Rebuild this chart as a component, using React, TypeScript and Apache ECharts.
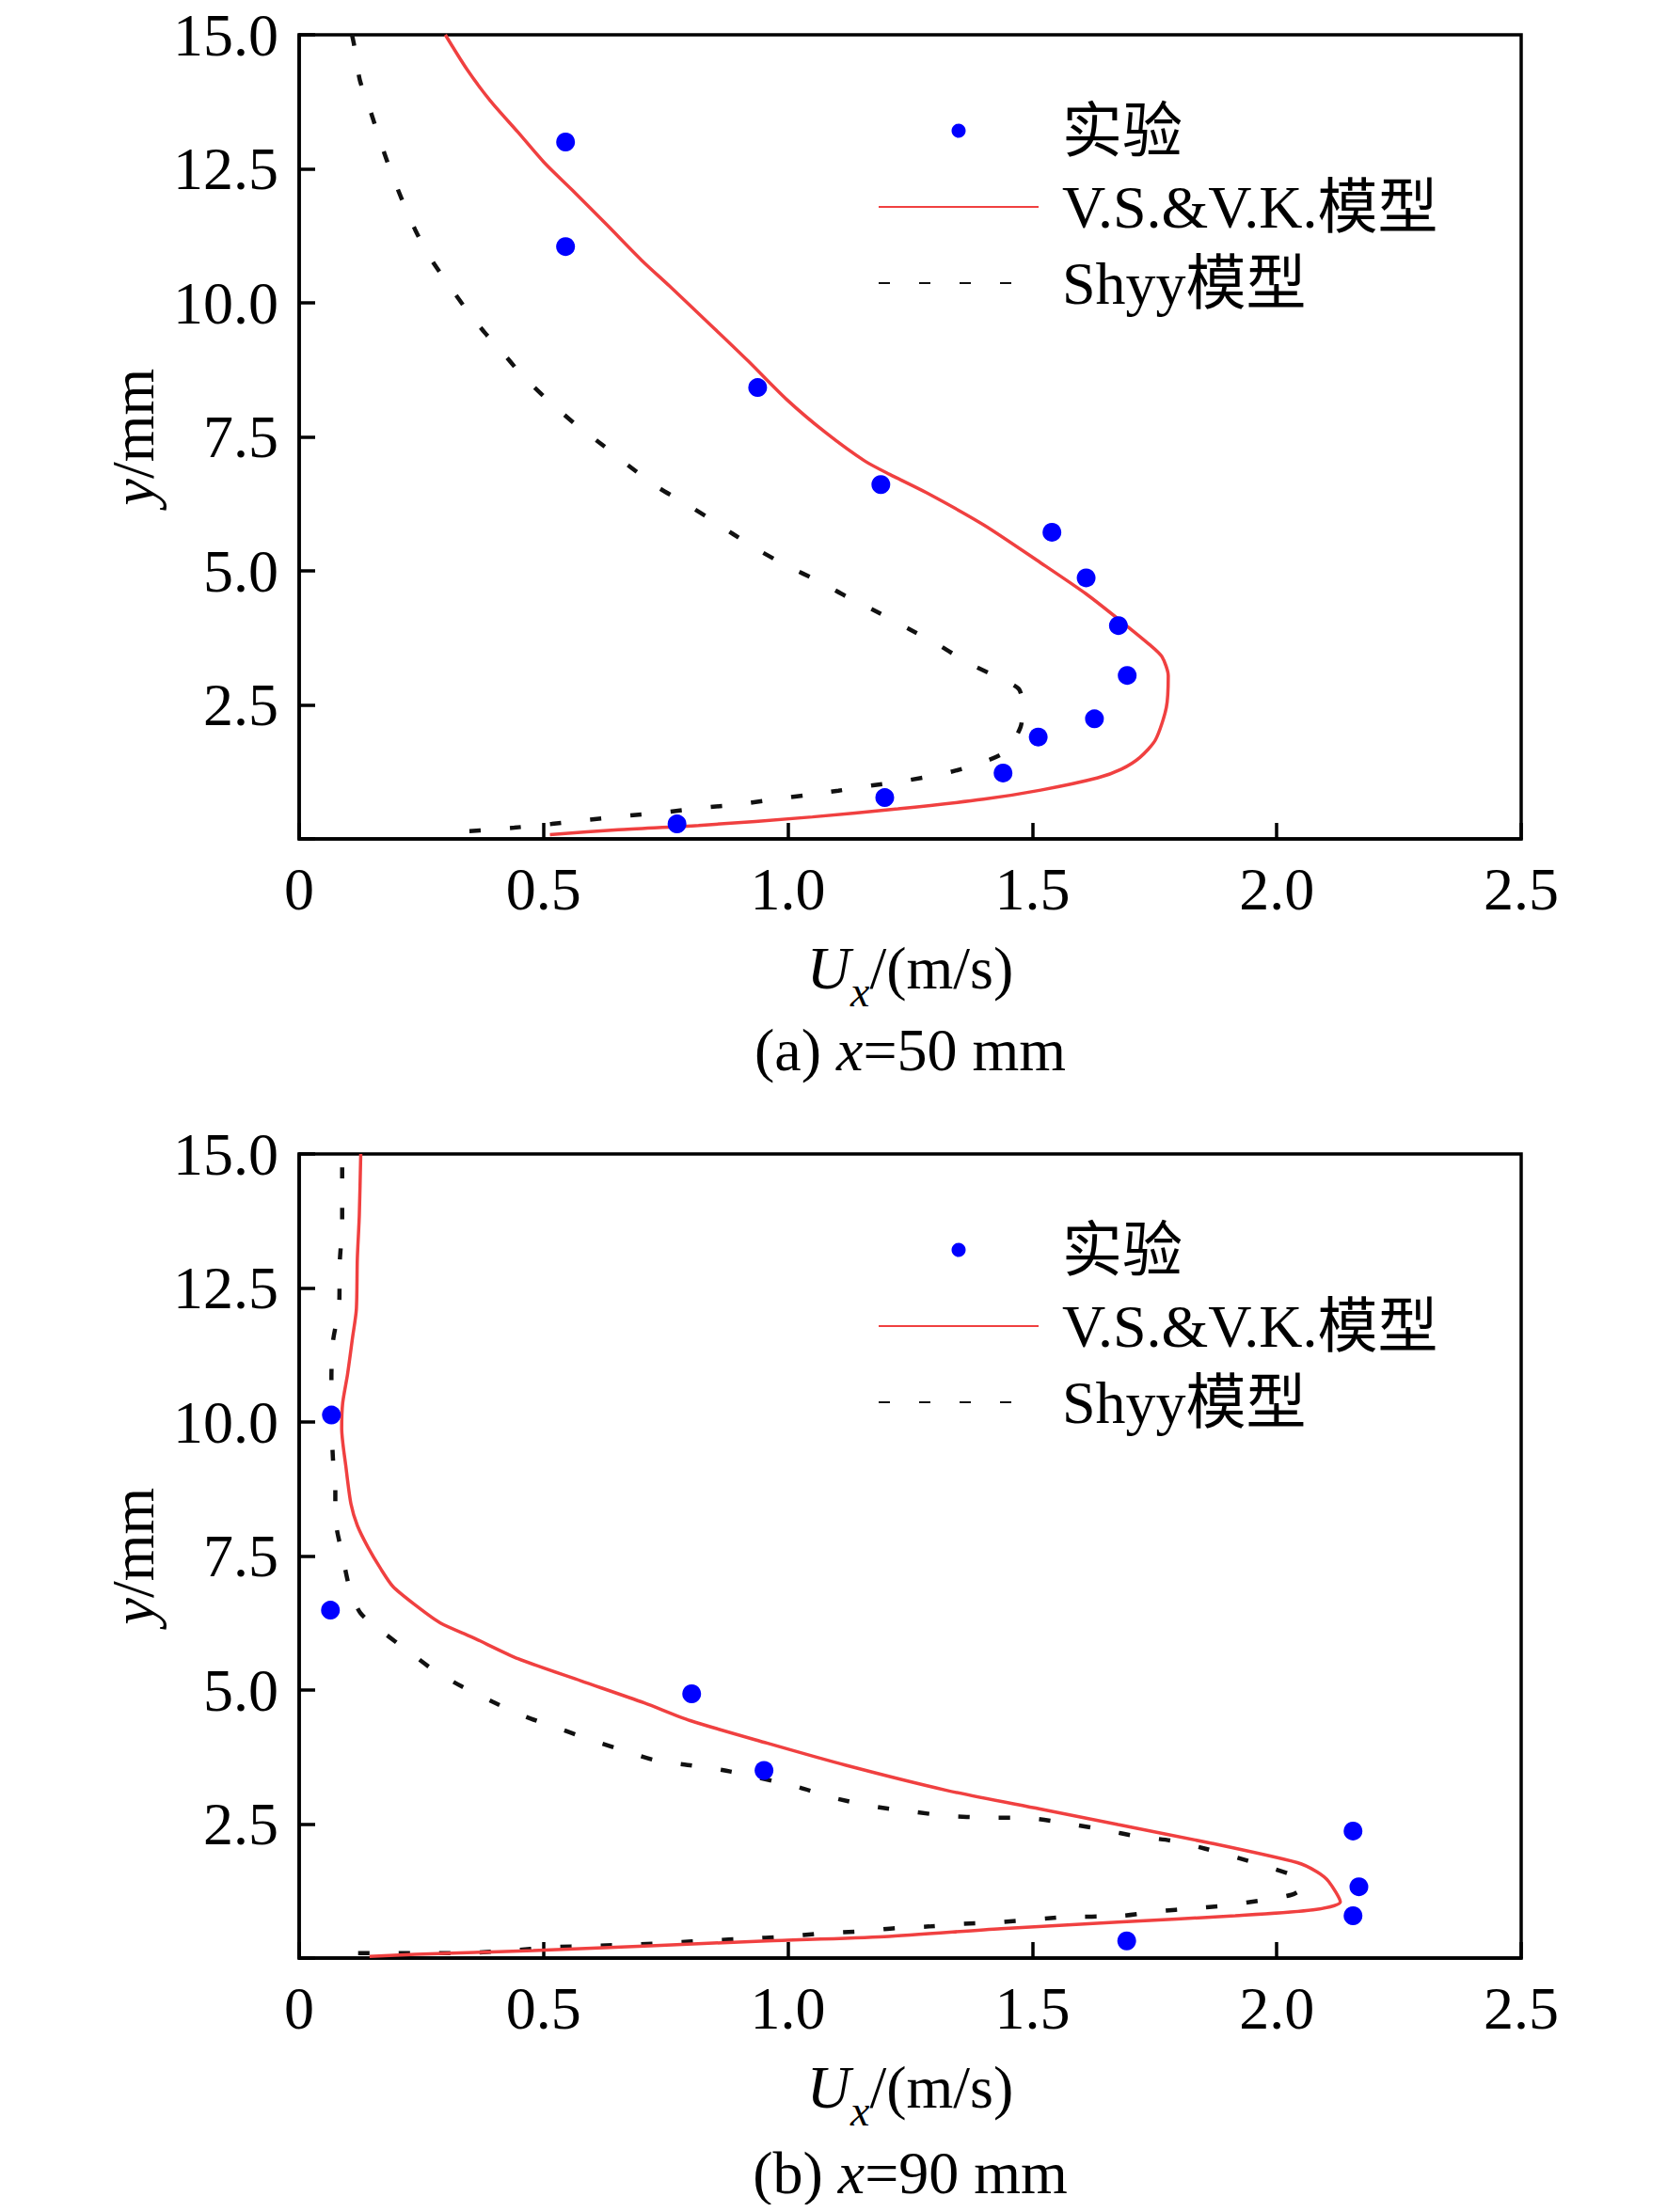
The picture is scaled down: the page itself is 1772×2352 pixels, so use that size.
import React, { useEffect, useRef } from 'react';
import * as echarts from 'echarts';

// ---------- data ----------
const seriesNames = ['实验', 'V.S.&V.K.模型', 'Shyy模型'];
const captions = ['(a) {i|x}=50 mm', '(b) {i|x}=90 mm'];

// panel (a) x = 50 mm : [Ux (m/s), y (mm)]
const expA: number[][] = [
  [0.545, 13.0], [0.545, 11.05], [0.938, 8.42], [1.19, 6.61], [1.54, 5.72],
  [1.61, 4.87], [1.676, 3.98], [1.694, 3.05], [1.627, 2.24], [1.512, 1.9],
  [1.44, 1.23], [1.198, 0.77], [0.773, 0.28],
];
const vskA: number[][] = [
  [0.299, 15.0], [0.343, 14.36], [0.391, 13.77], [0.447, 13.19], [0.503, 12.6],
  [0.559, 12.1], [0.63, 11.45], [0.7, 10.8], [0.758, 10.31], [0.838, 9.62],
  [0.918, 8.92], [0.997, 8.2], [1.077, 7.58], [1.157, 7.05], [1.208, 6.8],
  [1.283, 6.46], [1.4, 5.86], [1.517, 5.15], [1.61, 4.57], [1.68, 4.07],
  [1.739, 3.63], [1.765, 3.4], [1.778, 3.04], [1.774, 2.45], [1.752, 1.85],
  [1.72, 1.52], [1.682, 1.3], [1.634, 1.14], [1.517, 0.91], [1.4, 0.74],
  [1.225, 0.56], [1.05, 0.41], [0.817, 0.25], [0.653, 0.17], [0.513, 0.08],
];
const shyyA: number[][] = [
  [0.108, 15.0], [0.112, 14.83], [0.124, 14.16], [0.144, 13.63], [0.165, 13.04],
  [0.186, 12.49], [0.211, 11.91], [0.237, 11.37], [0.266, 10.87], [0.301, 10.4],
  [0.341, 9.89], [0.38, 9.44], [0.411, 9.13], [0.455, 8.66], [0.507, 8.2],
  [0.567, 7.72], [0.619, 7.36], [0.673, 6.97], [0.734, 6.56], [0.782, 6.3],
  [0.837, 5.99], [0.889, 5.68], [0.943, 5.37], [1.001, 5.08], [1.06, 4.82],
  [1.12, 4.52], [1.181, 4.24], [1.251, 3.9], [1.313, 3.59], [1.371, 3.27],
  [1.426, 3.03], [1.472, 2.8], [1.48, 2.5], [1.476, 2.09], [1.445, 1.63],
  [1.386, 1.39], [1.315, 1.21], [1.243, 1.09], [1.167, 0.99], [1.103, 0.9],
  [1.039, 0.82], [0.966, 0.73], [0.895, 0.64], [0.825, 0.58], [0.75, 0.5],
  [0.669, 0.43], [0.595, 0.36], [0.517, 0.28], [0.44, 0.21], [0.373, 0.16],
  [0.296, 0.12],
];

// panel (b) x = 90 mm
const expB: number[][] = [
  [0.066, 10.13], [0.064, 6.49], [0.803, 4.93], [0.951, 3.5],
  [2.156, 2.37], [2.168, 1.33], [2.156, 0.79], [1.693, 0.32],
];
const vskB: number[][] = [
  [0.126, 15.0], [0.123, 13.84], [0.119, 13.04], [0.117, 12.1], [0.109, 11.56],
  [0.099, 10.89], [0.089, 10.35], [0.087, 9.88], [0.096, 9.14], [0.106, 8.47],
  [0.119, 8.07], [0.141, 7.66], [0.167, 7.26], [0.192, 6.93], [0.237, 6.59],
  [0.289, 6.25], [0.353, 5.99], [0.449, 5.58], [0.577, 5.17], [0.706, 4.76],
  [0.8, 4.43], [0.957, 4.01], [1.117, 3.6], [1.324, 3.13], [1.516, 2.78],
  [1.675, 2.49], [1.867, 2.14], [2.042, 1.78], [2.082, 1.61], [2.106, 1.43],
  [2.13, 1.05], [2.074, 0.9], [1.915, 0.79], [1.675, 0.67], [1.436, 0.55],
  [1.197, 0.4], [0.957, 0.32], [0.718, 0.23], [0.479, 0.14], [0.239, 0.07],
  [0.144, 0.03],
];
const shyyB: number[][] = [
  [0.088, 14.75], [0.088, 13.71], [0.083, 12.97], [0.082, 12.2], [0.069, 11.49],
  [0.066, 10.83], [0.066, 10.12], [0.069, 9.34], [0.074, 8.72], [0.074, 8.22],
  [0.088, 7.54], [0.103, 6.91], [0.125, 6.44], [0.17, 6.09], [0.221, 5.74],
  [0.277, 5.36], [0.334, 5.06], [0.396, 4.78], [0.464, 4.5], [0.527, 4.3],
  [0.587, 4.1], [0.654, 3.9], [0.728, 3.69], [0.806, 3.59], [0.882, 3.48],
  [1.016, 3.2], [1.093, 2.99], [1.181, 2.82], [1.256, 2.73], [1.328, 2.65],
  [1.404, 2.62], [1.492, 2.61], [1.572, 2.51], [1.647, 2.39], [1.715, 2.27],
  [1.784, 2.19], [1.854, 2.04], [1.92, 1.87], [1.982, 1.7], [2.042, 1.5],
  [2.05, 1.3], [2.03, 1.18], [1.963, 1.07], [1.894, 0.98], [1.83, 0.93],
  [1.755, 0.87], [1.683, 0.79], [1.56, 0.76], [1.436, 0.67], [1.356, 0.64],
  [1.289, 0.59], [1.221, 0.56], [1.152, 0.5], [1.069, 0.46], [0.994, 0.4],
  [0.914, 0.36], [0.843, 0.33], [0.763, 0.29], [0.683, 0.25], [0.598, 0.23],
  [0.515, 0.2], [0.431, 0.14], [0.351, 0.1], [0.268, 0.09], [0.183, 0.09],
  [0.104, 0.09],
];

const xRange = [0, 2.5];
const xStep = 0.5;
const yRange = [0, 15];
const yStep = 2.5;

// ---------- styling ----------
const FONT = "'Liberation Serif', 'Times New Roman', 'Noto Sans CJK SC', serif";
const FS = 64;
const RED = '#f04040';
const BLUE = '#0000ff';
const gridTops = [37, 1227];
const gridH = 855;
const gridLeft = 318;
const gridW = 1299;
const captionOffsets = [224, 228];

function buildOption() {
  const grids = gridTops.map((t) => ({
    left: gridLeft, top: t, width: gridW, height: gridH,
    show: true, borderColor: '#000', borderWidth: 3.5, backgroundColor: 'transparent',
  }));
  const xAxes = gridTops.map((_, i) => ({
    type: 'value', gridIndex: i, min: xRange[0], max: xRange[1], interval: xStep,
    name: '{i|U}{sub|x}{n|/(m/s)}', nameLocation: 'middle', nameGap: 105,
    nameTextStyle: {
      fontFamily: FONT, fontSize: FS, color: '#000',
      rich: {
        i: { fontFamily: FONT, fontSize: FS, fontStyle: 'italic', lineHeight: FS, verticalAlign: 'top', color: '#000' },
        sub: { fontFamily: FONT, fontSize: 46, fontStyle: 'italic', lineHeight: 46, padding: [34, 0, 0, 0], verticalAlign: 'top', color: '#000' },
        n: { fontFamily: FONT, fontSize: FS, lineHeight: FS, verticalAlign: 'top', color: '#000' },
      },
    },
    axisLine: { show: true, onZero: false, lineStyle: { color: '#000', width: 3.5 } },
    axisTick: { show: true, inside: true, length: 17, lineStyle: { color: '#000', width: 3.5 } },
    axisLabel: {
      margin: 21, fontFamily: FONT, fontSize: FS, color: '#000', lineHeight: 64,
      formatter: (v: number) => (v === 0 ? '0' : v.toFixed(1)),
    },
    splitLine: { show: false },
  }));
  const yAxes = gridTops.map((_, i) => ({
    type: 'value', gridIndex: i, min: yRange[0], max: yRange[1], interval: yStep,
    name: '{i|y}{n|/mm}', nameLocation: 'middle', nameGap: 145, nameRotate: 90,
    nameTextStyle: {
      fontFamily: FONT, fontSize: FS, color: '#000',
      rich: {
        i: { fontFamily: FONT, fontSize: FS, fontStyle: 'italic', color: '#000' },
        n: { fontFamily: FONT, fontSize: FS, color: '#000' },
      },
    },
    axisLine: { show: true, onZero: false, lineStyle: { color: '#000', width: 3.5 } },
    axisTick: { show: true, inside: true, length: 17, lineStyle: { color: '#000', width: 3.5 } },
    axisLabel: {
      margin: 22, fontFamily: FONT, fontSize: FS, color: '#000', lineHeight: 48,
      formatter: (v: number) => (v === 0 ? '' : v.toFixed(1)),
    },
    splitLine: { show: false },
  }));

  const panels = [
    { exp: expA, vsk: vskA, shyy: shyyA },
    { exp: expB, vsk: vskB, shyy: shyyB },
  ];
  const series: any[] = [];
  panels.forEach((p, i) => {
    series.push({
      name: seriesNames[1], type: 'line', xAxisIndex: i, yAxisIndex: i,
      data: p.vsk, symbol: 'none', showSymbol: false, smooth: 0.25, z: 3,
      lineStyle: { color: RED, width: 3.5 }, itemStyle: { color: RED },
    });
    series.push({
      name: seriesNames[2], type: 'line', xAxisIndex: i, yAxisIndex: i,
      data: p.shyy, symbol: 'none', showSymbol: false, smooth: 0.25, z: 2,
      lineStyle: { color: '#111', width: 4.5, type: [12, 31] }, itemStyle: { color: '#111' },
    });
    series.push({
      name: seriesNames[0], type: 'scatter', xAxisIndex: i, yAxisIndex: i,
      data: p.exp, symbol: 'circle', symbolSize: 20, z: 4,
      itemStyle: { color: BLUE, opacity: 1 },
    });
  });

  const legends = gridTops.map((t) => ({
    orient: 'vertical', left: 933, top: t + 70, padding: 0,
    itemWidth: 170, itemHeight: 15, itemGap: 17, selectedMode: false,
    data: [
      { name: seriesNames[0], itemStyle: { color: BLUE, opacity: 1 } },
      { name: seriesNames[1], itemStyle: { opacity: 0 } },
      { name: seriesNames[2], itemStyle: { opacity: 0 } },
    ],
    textStyle: { fontFamily: FONT, fontSize: FS, color: '#000', lineHeight: FS, padding: [0, 0, 0, 20] },
  }));

  const graphic = gridTops.map((t, i) => ({
    type: 'text', x: gridLeft + gridW / 2, y: t + gridH + captionOffsets[i], z: 10,
    style: {
      text: captions[i], align: 'center', verticalAlign: 'middle',
      fontFamily: FONT, fontSize: FS, fill: '#000', lineHeight: 50,
      rich: {
        i: { fontFamily: FONT, fontSize: FS, fontStyle: 'italic', fill: '#000', lineHeight: 50 },
      },
    },
  }));

  return {
    animation: false,
    backgroundColor: '#fff',
    grid: grids,
    xAxis: xAxes,
    yAxis: yAxes,
    legend: legends,
    series,
    graphic,
  };
}

export default function App() {
  const ref = useRef<HTMLDivElement>(null);
  useEffect(() => {
    if (!ref.current) return;
    const chart = echarts.init(ref.current, undefined, { renderer: 'svg' });
    chart.setOption(buildOption() as any);
    return () => chart.dispose();
  }, []);
  return <div ref={ref} style={{ width: 1772, height: 2352, margin: -8 }} />;
}
